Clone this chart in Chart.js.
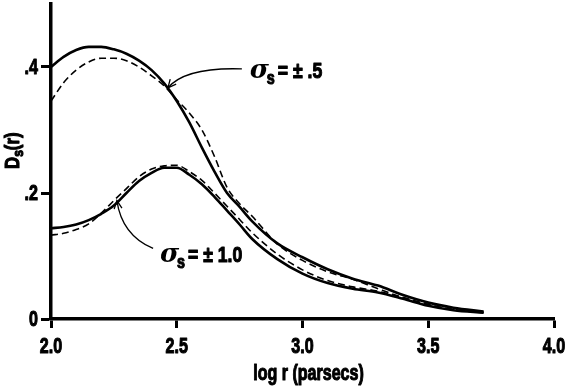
<!DOCTYPE html>
<html>
<head>
<meta charset="utf-8">
<script src="https://cdn.jsdelivr.net/npm/chart.js@4"></script>
<style>
  html, body { margin: 0; padding: 0; background: #fff; }
  #wrap { width: 570px; height: 389px; }
</style>
</head>
<body>
<div id="wrap"><canvas id="myChart" width="570" height="389"></canvas></div>
<script>
// log r (parsecs)
const logR = [2.0, 2.05, 2.1, 2.15, 2.2, 2.25, 2.3, 2.35, 2.4, 2.45, 2.5, 2.55, 2.6, 2.65, 2.7, 2.75, 2.8, 2.9, 3.0, 3.1, 3.2, 3.3, 3.4, 3.5, 3.6, 3.72];

// sigma_s = +-.5
const halfSolid  = [0.400, 0.416, 0.427, 0.432, 0.432, 0.428, 0.421, 0.410, 0.395, 0.374, 0.346, 0.312, 0.272, 0.234, 0.200, 0.178, 0.155, 0.120, 0.098, 0.079, 0.064, 0.053, 0.038, 0.026, 0.018, 0.012];
const halfDashed = [0.346, 0.375, 0.395, 0.408, 0.414, 0.414, 0.410, 0.400, 0.386, 0.370, 0.348, 0.327, 0.300, 0.258, 0.209, 0.183, 0.163, 0.119, 0.093, 0.075, 0.063, 0.048, 0.034, 0.023, 0.015, 0.010];

// sigma_s = +-1.0
const oneSolid  = [0.144, 0.146, 0.150, 0.157, 0.167, 0.180, 0.200, 0.219, 0.232, 0.240, 0.240, 0.229, 0.214, 0.194, 0.172, 0.150, 0.127, 0.095, 0.072, 0.057, 0.048, 0.042, 0.032, 0.021, 0.014, 0.010];
const oneDashed = [0.133, 0.136, 0.142, 0.151, 0.168, 0.188, 0.207, 0.226, 0.238, 0.243, 0.244, 0.234, 0.220, 0.200, 0.179, 0.158, 0.137, 0.103, 0.078, 0.061, 0.051, 0.044, 0.034, 0.023, 0.015, 0.011];

const xTicks = [2.0, 2.5, 3.0, 3.5, 4.0];
const yTicks = [0, 0.2, 0.4];
const xTitle = 'log r (parsecs)';

const FONT = "'Liberation Sans', sans-serif";
const SQUEEZE = 0.73; // condensed look

const pts = ys => logR.map((x, i) => ({ x: x, y: ys[i] }));
const xLabel = v => v.toFixed(1);
const yLabel = v => (v === 0 ? '0' : v.toFixed(1).replace('0.', '.'));

// labels + arrows, placed in data units
const notes = [
  { x: 2.79, y: 0.383, tail: [2.759, 0.397], ctrl: [2.535, 0.400], head: [2.465, 0.367], rest: '= \u00b1 .5' },
  { x: 2.433, y: 0.090, tail: [2.406, 0.112], ctrl: [2.282, 0.133], head: [2.262, 0.188], rest: '= \u00b1 1.0' },
];

// heavy narrow text; align: 0 left, 0.5 centre, 1 right
function narrowText(ctx, text, x, y, size, k, align) {
  ctx.save();
  ctx.font = 'bold ' + size + 'px ' + FONT;
  ctx.textAlign = 'left';
  ctx.textBaseline = 'alphabetic';
  const w = ctx.measureText(text).width * k;
  ctx.translate(x - w * (align || 0), y);
  ctx.scale(k, 1);
  ctx.lineWidth = 1.1;
  ctx.lineJoin = 'round';
  ctx.fillText(text, 0, 0);
  ctx.strokeText(text, 0, 0);
  ctx.restore();
  return w;
}

const annotate = {
  id: 'annotate',
  afterDraw(chart) {
    const { ctx, scales: { x, y } } = chart;
    const px = p => [x.getPixelForValue(p[0]), y.getPixelForValue(p[1])];
    ctx.save();
    ctx.fillStyle = '#000';
    ctx.strokeStyle = '#000';

    // tick labels
    x.ticks.forEach(t => narrowText(ctx, xLabel(t.value), x.getPixelForValue(t.value), y.bottom + 34, 22, SQUEEZE, 0.5));
    y.ticks.forEach(t => narrowText(ctx, yLabel(t.value), x.left - 13, y.getPixelForValue(t.value) + 7, 22, SQUEEZE, 1));
    narrowText(ctx, xTitle, (x.left + x.right) / 2 + 6, y.bottom + 61, 22, SQUEEZE, 0.5);

    notes.forEach(n => {
      // arrow
      const [tx, ty] = px(n.tail), [cx, cy] = px(n.ctrl), [hx, hy] = px(n.head);
      ctx.lineWidth = 1.3;
      ctx.beginPath();
      ctx.moveTo(tx, ty);
      ctx.quadraticCurveTo(cx, cy, hx, hy);
      ctx.stroke();
      const a = Math.atan2(hy - cy, hx - cx);
      ctx.beginPath();
      ctx.moveTo(hx - 9 * Math.cos(a - 0.45), hy - 9 * Math.sin(a - 0.45));
      ctx.lineTo(hx, hy);
      ctx.lineTo(hx - 9 * Math.cos(a + 0.45), hy - 9 * Math.sin(a + 0.45));
      ctx.stroke();

      // text: sigma_s = ...
      let [lx, ly] = px([n.x, n.y]);
      ctx.font = "italic bold 26px 'DejaVu Serif', serif";
      ctx.textAlign = 'left';
      ctx.textBaseline = 'alphabetic';
      ctx.fillText('\u03c3', lx, ly);
      lx += ctx.measureText('\u03c3').width - 2;
      lx += narrowText(ctx, 's', lx, ly + 6, 18, 0.8) + 3;
      narrowText(ctx, n.rest, lx, ly, 22, 0.8);
    });

    // y axis title D_s(r), rotated
    ctx.translate(19, 150);
    ctx.rotate(-Math.PI / 2);
    let ox = -19;
    ox += narrowText(ctx, 'D', ox, 0, 21, 0.8);
    ox += narrowText(ctx, 's', ox, 4, 15, 0.8);
    narrowText(ctx, '(r)', ox, 0, 21, 0.8);
    ctx.restore();
  }
};

const ctx = document.getElementById('myChart').getContext('2d');
const myChart = new Chart(ctx, {
  type: 'line',
  data: {
    datasets: [
      { label: 'sigma .5 solid', data: pts(halfSolid), borderColor: '#000', borderWidth: 2.6 },
      { label: 'sigma .5 dashed', data: pts(halfDashed), borderColor: '#000', borderWidth: 1.6, borderDash: [7, 4] },
      { label: 'sigma 1.0 solid', data: pts(oneSolid), borderColor: '#000', borderWidth: 2.6 },
      { label: 'sigma 1.0 dashed', data: pts(oneDashed), borderColor: '#000', borderWidth: 1.6, borderDash: [7, 4] },
    ],
  },
  options: {
    responsive: false,
    animation: false,
    devicePixelRatio: 1,
    layout: { padding: { top: 4, right: 16, left: 0, bottom: 0 } },
    elements: {
      point: { radius: 0 },
      line: { tension: 0.4, cubicInterpolationMode: 'monotone', fill: false },
    },
    plugins: {
      legend: { display: false },
      tooltip: { enabled: false },
    },
    scales: {
      x: {
        type: 'linear',
        min: 2,
        max: 4,
        afterBuildTicks: scale => { scale.ticks = xTicks.map(v => ({ value: v })); },
        afterFit: scale => { scale.height = 70; scale.paddingLeft = 0; scale.paddingRight = 0; },
        ticks: { display: false },
        grid: { drawOnChartArea: false, drawTicks: true, tickLength: 9, tickWidth: 3, tickColor: '#000' },
        border: { color: '#000', width: 3.5 },
      },
      y: {
        min: 0,
        max: 0.5,
        afterBuildTicks: scale => { scale.ticks = yTicks.map(v => ({ value: v })); },
        afterFit: scale => { scale.width = 51; scale.paddingTop = 0; scale.paddingBottom = 0; },
        ticks: { display: false },
        grid: { drawOnChartArea: false, drawTicks: true, tickLength: 10, tickWidth: 3, tickColor: '#000' },
        border: { color: '#000', width: 3.5 },
      },
    },
  },
  plugins: [annotate],
});
</script>
</body>
</html>
